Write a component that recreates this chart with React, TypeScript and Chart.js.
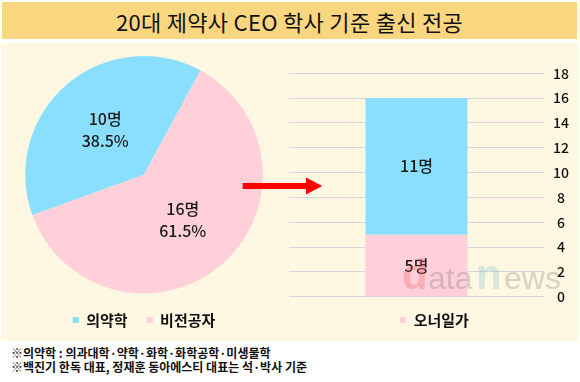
import React, { useEffect, useRef } from 'react';
import { Chart, registerables } from 'chart.js';

Chart.register(...registerables);

// ---- data ----
const titleText = '20대 제약사 CEO 학사 기준 출신 전공';
const pieLabels = ['의약학', '비전공자'];
const pieValues = [10, 16];
const pieColors = ['#8ADFFF', '#FFD0DA'];

const barCategories = [''];
const barSeriesLabels = ['오너일가', ''];
const ownerValues = [5];
const otherValues = [11];
const barColors = ['#FFD0DA', '#8ADFFF'];
const yMax = 18;
const yStep = 2;
const unit = '명';

const footnotes = [
  '※의약학 : 의과대학·약학·화학·화학공학·미생물학',
  '※백진기 한독 대표, 정재훈 동아에스티 대표는 석·박사 기준',
];

const KR = '"Noto Sans CJK KR", "Noto Sans", sans-serif';

const pieLabelPlugin = {
  id: 'pieLabelPlugin',
  afterDatasetsDraw(chart: any) {
    const ctx = chart.ctx;
    const meta = chart.getDatasetMeta(0);
    const data = chart.data.datasets[0].data as number[];
    const total = data.reduce((a, b) => a + b, 0);
    ctx.save();
    ctx.font = `500 16px ${KR}`;
    ctx.fillStyle = '#1a1a1a';
    ctx.textAlign = 'center';
    ctx.textBaseline = 'middle';
    meta.data.forEach((arc: any, i: number) => {
      const p = arc.getCenterPoint();
      ctx.fillText(`${data[i]}${unit}`, p.x, p.y - 11);
      ctx.fillText(`${((data[i] / total) * 100).toFixed(1)}%`, p.x, p.y + 11);
    });
    ctx.restore();
  },
};

const barLabelPlugin = {
  id: 'barLabelPlugin',
  afterDatasetsDraw(chart: any) {
    const ctx = chart.ctx;
    ctx.save();
    ctx.font = `500 16px ${KR}`;
    ctx.fillStyle = '#1a1a1a';
    ctx.textAlign = 'center';
    ctx.textBaseline = 'middle';
    chart.data.datasets.forEach((ds: any, di: number) => {
      const meta = chart.getDatasetMeta(di);
      meta.data.forEach((bar: any, i: number) => {
        const p = bar.getCenterPoint();
        ctx.fillText(`${ds.data[i]}${unit}`, p.x, p.y);
      });
    });
    ctx.restore();
  },
};

const arrowPlugin = {
  id: 'arrowPlugin',
  afterDraw(chart: any) {
    const ctx = chart.ctx;
    const left = chart.chartArea.left;
    const cy = 136;
    ctx.save();
    ctx.fillStyle = '#FF0000';
    ctx.fillRect(left - 46.3, cy - 3, 63.5, 6);
    ctx.beginPath();
    ctx.moveTo(left + 17, cy - 8.5);
    ctx.lineTo(left + 33.3, cy);
    ctx.lineTo(left + 17, cy + 8.5);
    ctx.closePath();
    ctx.fill();
    ctx.restore();
  },
};

export default function App() {
  const pieRef = useRef<HTMLCanvasElement>(null);
  const barRef = useRef<HTMLCanvasElement>(null);

  useEffect(() => {
    document.body.style.margin = '0';
    const legendFont = { family: KR, size: 15, weight: 'bold' as const };

    const pie = new Chart(pieRef.current!, {
      type: 'pie',
      data: {
        labels: pieLabels,
        datasets: [{ data: pieValues, backgroundColor: pieColors, borderWidth: 0 }],
      },
      options: {
        animation: false,
        responsive: false,
        events: [],
        rotation: 250,
        layout: { padding: { top: 6, bottom: 2.5, left: 0, right: 0 } },
        plugins: {
          legend: {
            position: 'bottom',
            labels: { boxWidth: 6, boxHeight: 6, padding: 19, color: '#111', font: legendFont },
          },
          tooltip: { enabled: false },
        },
      },
      plugins: [pieLabelPlugin],
    });

    const bar = new Chart(barRef.current!, {
      type: 'bar',
      data: {
        labels: barCategories,
        datasets: [
          {
            label: barSeriesLabels[0],
            data: ownerValues,
            backgroundColor: barColors[0],
            categoryPercentage: 1,
            barPercentage: 0.4,
          },
          {
            label: barSeriesLabels[1],
            data: otherValues,
            backgroundColor: barColors[1],
            categoryPercentage: 1,
            barPercentage: 0.4,
          },
        ],
      },
      options: {
        animation: false,
        responsive: false,
        events: [],
        layout: { padding: { left: 49, top: 23.3, right: 0, bottom: 2.5 } },
        plugins: {
          legend: {
            position: 'bottom',
            labels: {
              boxWidth: 6,
              boxHeight: 6,
              padding: 10,
              color: '#111',
              font: legendFont,
              filter: (item: any) => item.text !== '',
            },
          },
          tooltip: { enabled: false },
        },
        scales: {
          x: {
            stacked: true,
            grid: { display: false },
            border: { display: false },
            ticks: { display: false },
            afterFit: (s: any) => {
              s.height = 5.8;
            },
          },
          y: {
            stacked: true,
            position: 'right',
            min: 0,
            max: yMax,
            ticks: {
              stepSize: yStep,
              padding: 9,
              crossAlign: 'center',
              color: '#111',
              font: { family: KR, size: 14, weight: '500' },
            },
            grid: { color: '#D3D6DA', drawTicks: false },
            border: { display: false },
            afterFit: (s: any) => {
              s.width = 36;
            },
          },
        },
      },
      plugins: [barLabelPlugin, arrowPlugin],
    });

    return () => {
      pie.destroy();
      bar.destroy();
    };
  }, []);

  const wmBase: React.CSSProperties = {
    position: 'absolute',
    bottom: 0,
    lineHeight: 1,
    whiteSpace: 'nowrap',
  };

  return (
    <div
      style={{
        position: 'fixed',
        left: 0,
        top: 0,
        width: 580,
        height: 382,
        background: '#ffffff',
        fontFamily: KR,
        overflow: 'hidden',
      }}
    >
      <div
        style={{
          position: 'absolute',
          left: 2,
          top: 2,
          width: 575,
          height: 37,
          background: '#FAD680',
          display: 'flex',
          alignItems: 'center',
          justifyContent: 'center',
          fontSize: 22,
          fontWeight: 400,
          letterSpacing: 0.3,
          color: '#111',
        }}
      >
        {titleText}
      </div>
      <div
        style={{
          position: 'absolute',
          left: 1,
          top: 43,
          width: 577,
          height: 298,
          background: '#FEF7E2',
        }}
      />
      <canvas
        ref={pieRef}
        width={288}
        height={290}
        style={{ position: 'absolute', left: 0, top: 50, width: 288, height: 290 }}
      />
      <canvas
        ref={barRef}
        width={340}
        height={290}
        style={{ position: 'absolute', left: 240, top: 50, width: 340, height: 290 }}
      />
      <div
        style={{
          position: 'absolute',
          left: 400,
          top: 240,
          width: 170,
          height: 48,
          pointerEvents: 'none',
          fontFamily: '"Liberation Sans", Arial, sans-serif',
        }}
      >
        <span
          style={{ ...wmBase, left: 2, fontSize: 42, fontWeight: 700, color: 'rgba(235,95,95,0.32)', bottom: -8 }}
        >
          d
        </span>
        <span
          style={{ ...wmBase, left: 28, fontSize: 32, fontWeight: 400, color: 'rgba(110,110,110,0.28)', bottom: -6 }}
        >
          ata
        </span>
        <span
          style={{ ...wmBase, left: 76, fontSize: 42, fontWeight: 700, color: 'rgba(110,195,205,0.28)', bottom: -8 }}
        >
          n
        </span>
        <span
          style={{ ...wmBase, left: 104, fontSize: 32, fontWeight: 400, color: 'rgba(110,110,110,0.28)', bottom: -6 }}
        >
          ews
        </span>
      </div>
      <div
        style={{
          position: 'absolute',
          left: 11,
          top: 345.5,
          fontSize: 12,
          lineHeight: '14px',
          fontWeight: 700,
          color: '#111',
          whiteSpace: 'nowrap',
        }}
      >
        {footnotes.map((t, i) => (
          <div key={i}>{t}</div>
        ))}
      </div>
    </div>
  );
}
